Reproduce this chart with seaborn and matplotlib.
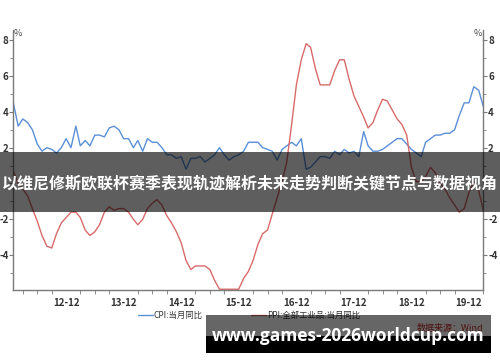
import matplotlib
matplotlib.use("Agg")
import matplotlib.pyplot as plt
import matplotlib.dates as mdates
from matplotlib.patches import Rectangle
from matplotlib.lines import Line2D
import numpy as np
import pandas as pd
import seaborn as sns

# ---- data (China CPI / PPI YoY, monthly 2012-01 .. 2020-03) ----
cpi_values = [4.5, 3.2, 3.6, 3.4, 3.0, 2.2, 1.8, 2.0, 1.9, 1.7, 2.0, 2.5,
              2.0, 3.2, 2.1, 2.4, 2.1, 2.7, 2.7, 2.6, 3.1, 3.2, 3.0, 2.5,
              2.5, 2.0, 2.4, 1.8, 2.5, 2.3, 2.3, 2.0, 1.6, 1.6, 1.4, 1.5,
              0.8, 1.4, 1.4, 1.5, 1.2, 1.4, 1.6, 2.0, 1.6, 1.3, 1.5, 1.6,
              1.8, 2.3, 2.3, 2.3, 2.0, 1.9, 1.8, 1.3, 1.9, 2.1, 2.3, 2.1,
              2.5, 0.8, 0.9, 1.2, 1.5, 1.5, 1.4, 1.8, 1.6, 1.9, 1.7, 1.8,
              1.5, 2.9, 2.1, 1.8, 1.8, 1.9, 2.1, 2.3, 2.5, 2.5, 2.2, 1.9,
              1.7, 1.5, 2.3, 2.5, 2.7, 2.7, 2.8, 2.8, 3.0, 3.8, 4.5, 4.5,
              5.4, 5.2, 4.3]
ppi_values = [0.7, 0.0, -0.3, -0.7, -1.4, -2.1, -2.9, -3.5, -3.6, -2.8, -2.2, -1.9,
              -1.6, -1.6, -1.9, -2.6, -2.9, -2.7, -2.3, -1.6, -1.3, -1.5, -1.4, -1.4,
              -1.6, -2.0, -2.3, -2.0, -1.4, -1.1, -0.9, -1.2, -1.8, -2.2, -2.7, -3.3,
              -4.3, -4.8, -4.6, -4.6, -4.6, -4.8, -5.4, -5.9, -5.9, -5.9, -5.9, -5.9,
              -5.3, -4.9, -4.3, -3.4, -2.8, -2.6, -1.7, -0.8, 0.1, 1.2, 3.3, 5.5,
              6.9, 7.8, 7.6, 6.4, 5.5, 5.5, 5.5, 6.3, 6.9, 6.9, 5.8, 4.9,
              4.3, 3.7, 3.1, 3.4, 4.1, 4.7, 4.6, 4.1, 3.6, 3.3, 2.7, 0.9,
              0.1, 0.1, 0.4, 0.9, 0.6, 0.0, -0.3, -0.8, -1.2, -1.6, -1.4, -0.5,
              0.1, -0.4, -1.5]
start_month = "2012-01"
series_names = ["CPI:当月同比", "PPI:全部工业品:当月同比"]
y_major_ticks = [-4, -2, 0, 2, 4, 6, 8]
y_major_labels = ["-4", "-2", "", "2", "4", "6", "8"]
title_text = "以维尼修斯欧联杯赛季表现轨迹解析未来走势判断关键节点与数据视角"
source_text = "数据来源：Wind"
watermark_text = "www.games-2026worldcup.com"

dates = pd.date_range(start_month, periods=len(cpi_values), freq="MS")
df = pd.DataFrame({
    "date": np.concatenate([dates, dates]),
    "value": cpi_values + ppi_values,
    "series": [series_names[0]] * len(dates) + [series_names[1]] * len(dates),
})

sns.set_style("white")
plt.rcParams["font.family"] = ["Noto Sans CJK SC", "DejaVu Sans"]

fig = plt.figure(figsize=(5.0, 3.62), dpi=100)
ax = fig.add_axes([0.0266, 0.199, 0.94, 0.718])

colors = {series_names[0]: "#5b8fd8", series_names[1]: "#d86a6a"}
sns.lineplot(data=df, x="date", y="value", hue="series", palette=colors,
             linewidth=1.0, ax=ax, legend=False)

ax.set_xlim(dates[0], dates[-1])
ax.set_ylim(-5.94, 8.56)
ax.set_xlabel("")
ax.set_ylabel("")

ax.xaxis.set_major_locator(mdates.MonthLocator(bymonth=12))
ax.xaxis.set_minor_locator(mdates.MonthLocator(bymonth=[3, 6, 9]))
ax.xaxis.set_major_formatter(mdates.DateFormatter("%y-%m"))
ax.set_yticks(y_major_ticks)
ax.set_yticks([-5, -3, -1, 1, 3, 5, 7], minor=True)
ax.set_yticklabels(y_major_labels)

axis_col = "#7a7a7a"
for s in ["left", "right", "bottom"]:
    ax.spines[s].set_visible(True)
    ax.spines[s].set_color(axis_col)
    ax.spines[s].set_linewidth(1.0)
ax.spines["top"].set_visible(False)

ax.tick_params(axis="both", which="both", direction="out", color=axis_col,
               labelcolor="#333333", labelsize=7)
ax.tick_params(axis="y", which="both", left=True, right=True,
               labelleft=True, labelright=True, pad=0.5)
ax.tick_params(axis="y", which="major", length=3)
ax.tick_params(axis="y", which="minor", length=2)
ax.tick_params(axis="x", which="major", length=4, pad=2)
ax.tick_params(axis="x", which="minor", length=3, bottom=True)
for lab in ax.get_xticklabels() + ax.get_yticklabels():
    lab.set_fontweight("bold")

# % unit labels
fig.text(14 / 500, 1 - 33 / 362, "%", fontsize=6.5, color="#444444",
         ha="left", va="center")
fig.text(482 / 500, 1 - 33 / 362, "%", fontsize=6.5, color="#444444",
         ha="right", va="center")

# legend
handles = [Line2D([], [], color=colors[n], lw=1.0) for n in series_names]
leg = fig.legend(handles, series_names, loc="center",
                 bbox_to_anchor=(249 / 500, 1 - 315 / 362), ncol=2, frameon=False,
                 fontsize=6, handlelength=1.8, handletextpad=0.15,
                 columnspacing=5.8, borderpad=0, borderaxespad=0)
for t in leg.get_texts():
    t.set_color("#333333")

fig.text(483 / 500, 1 - 329 / 362, source_text, fontsize=6.5, color="#c0302a",
         style="italic", ha="right", va="center")

# overlays
fig.patches.append(Rectangle((0, 1 - 212 / 362), 1, 60 / 362,
                             transform=fig.transFigure, facecolor="black",
                             alpha=0.63, edgecolor="none", zorder=10))
fig.text(250 / 500, 1 - 183 / 362, title_text, fontsize=11.5,
         fontweight="bold", color="white", ha="center", va="center",
         zorder=11)

fig.patches.append(Rectangle((206 / 500, 1 - 336 / 362), 285 / 500, 21 / 362,
                             transform=fig.transFigure, facecolor="black",
                             alpha=0.6, edgecolor="none", zorder=10))
fig.patches.append(Rectangle((206 / 500, 1 - 353 / 362), 285 / 500, 17 / 362,
                             transform=fig.transFigure, facecolor="black",
                             edgecolor="none", zorder=10))
fig.text(348 / 500, 1 - 336 / 362, watermark_text, fontsize=12.5,
         fontweight="bold", color="white", ha="center", va="center",
         family=["Open Sans", "DejaVu Sans"], zorder=11)

fig.savefig("out.png", dpi=100)
